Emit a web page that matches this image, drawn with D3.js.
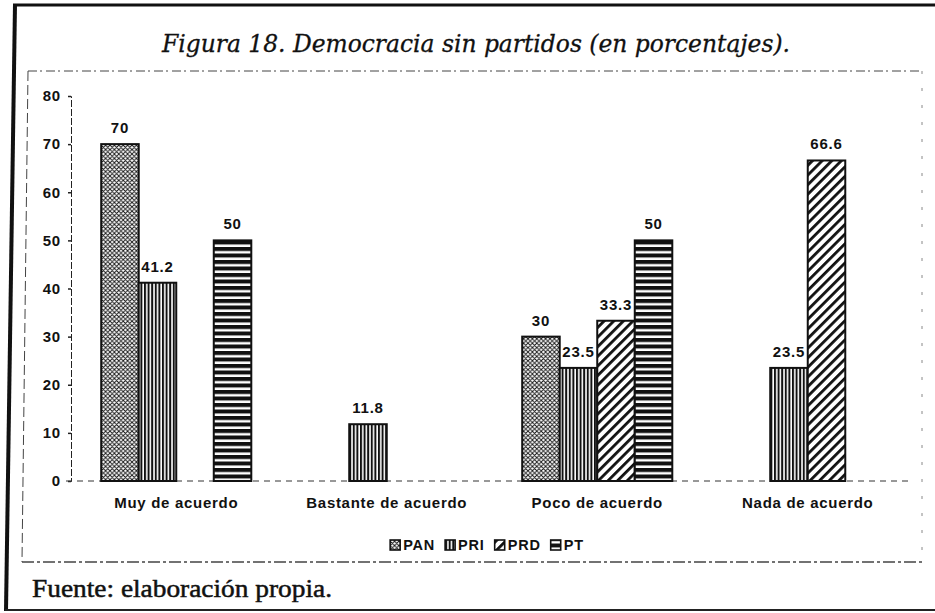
<!DOCTYPE html>
<html lang="es">
<head>
<meta charset="utf-8">
<script src="https://cdn.jsdelivr.net/npm/d3@7"></script>
<style>
  html, body { margin: 0; padding: 0; background: #fff; }
  svg { display: block; }
</style>
</head>
<body>
<script>
// Categorías de respuesta y porcentajes por partido (null = sin barra)
const categories = ["Muy de acuerdo", "Bastante de acuerdo", "Poco de acuerdo", "Nada de acuerdo"];
const seriesNames = ["PAN", "PRI", "PRD", "PT"];
const valuesPAN = [70, null, 30, null];
const valuesPRI = [41.2, 11.8, 23.5, 23.5];
const valuesPRD = [null, null, 33.3, 66.6];
const valuesPT  = [50, null, 50, null];
const yTicks = [0, 10, 20, 30, 40, 50, 60, 70, 80];

const titleText = "Figura 18. Democracia sin partidos (en porcentajes).";
const sourceText = "Fuente: elaboración propia.";

const W = 935, H = 613;
const svg = d3.select("body").append("svg")
  .attr("width", W).attr("height", H)
  .attr("viewBox", `0 0 ${W} ${H}`);

// ---- Tramas de relleno ----
const defs = svg.append("defs");

// PAN: retícula fina cruzada
const pPAN = defs.append("pattern").attr("id", "pat-PAN")
  .attr("patternUnits", "userSpaceOnUse").attr("width", 4.4).attr("height", 4.4);
pPAN.append("rect").attr("width", 4.4).attr("height", 4.4).attr("fill", "#fff");
pPAN.append("path").attr("d", "M0,0 L4.4,4.4 M4.4,0 L0,4.4 M-1,3.4 L1,5.4 M3.4,-1 L5.4,1 M-1,1 L1,-1 M3.4,5.4 L5.4,3.4")
  .attr("stroke", "#111").attr("stroke-width", 0.9);

// PRI: rayas verticales densas
const pPRI = defs.append("pattern").attr("id", "pat-PRI")
  .attr("patternUnits", "userSpaceOnUse").attr("width", 3.6).attr("height", 4);
pPRI.append("rect").attr("width", 3.6).attr("height", 4).attr("fill", "#fff");
pPRI.append("rect").attr("width", 2).attr("height", 4).attr("fill", "#111");

// PRD: diagonales gruesas "/"
const pPRD = defs.append("pattern").attr("id", "pat-PRD")
  .attr("patternUnits", "userSpaceOnUse").attr("width", 6.8).attr("height", 6.8)
  .attr("patternTransform", "rotate(45)");
pPRD.append("rect").attr("width", 6.8).attr("height", 6.8).attr("fill", "#fff");
pPRD.append("rect").attr("width", 2.8).attr("height", 6.8).attr("fill", "#111");

// PT: rayas horizontales
const pPT = defs.append("pattern").attr("id", "pat-PT")
  .attr("patternUnits", "userSpaceOnUse").attr("width", 4).attr("height", 6.5);
pPT.append("rect").attr("width", 4).attr("height", 6.5).attr("fill", "#fff");
pPT.append("rect").attr("y", 0).attr("width", 4).attr("height", 4).attr("fill", "#111");

const fills = { PAN: "url(#pat-PAN)", PRI: "url(#pat-PRI)", PRD: "url(#pat-PRD)", PT: "url(#pat-PT)" };

// ---- Marco exterior ----
const frame = svg.append("g").attr("fill", "none");
frame.append("line").attr("x1", 13).attr("y1", 5).attr("x2", W).attr("y2", 5)
  .attr("stroke", "#111").attr("stroke-width", 3);
frame.append("line").attr("x1", 15).attr("y1", 4).attr("x2", 6).attr("y2", 611)
  .attr("stroke", "#111").attr("stroke-width", 4);
frame.append("line").attr("x1", 5).attr("y1", 610).attr("x2", W).attr("y2", 610)
  .attr("stroke", "#222").attr("stroke-width", 2);

// Recuadro punteado del gráfico
const box = svg.append("g").attr("fill", "none").attr("stroke", "#444").attr("stroke-width", 1);
box.append("line").attr("x1", 28).attr("y1", 71).attr("x2", 922).attr("y2", 71)
  .attr("stroke-dasharray", "9,3,2,4");
box.append("line").attr("x1", 28).attr("y1", 71).attr("x2", 22).attr("y2", 562)
  .attr("stroke-dasharray", "10,4");
box.append("line").attr("x1", 22).attr("y1", 562).attr("x2", 922).attr("y2", 562)
  .attr("stroke-dasharray", "12,3,3,3").attr("stroke-width", 1.3);
box.append("line").attr("x1", 922).attr("y1", 71).attr("x2", 922).attr("y2", 562)
  .attr("stroke", "#888").attr("stroke-dasharray", "3,14");

// ---- Título y fuente ----
svg.append("text")
  .attr("x", 476).attr("y", 52)
  .attr("text-anchor", "middle")
  .attr("font-family", "'DejaVu Serif', 'Liberation Serif', serif")
  .attr("font-style", "italic")
  .attr("font-size", 25)
  .attr("textLength", 628).attr("lengthAdjust", "spacingAndGlyphs")
  .attr("fill", "#111").attr("stroke", "#111").attr("stroke-width", 0.3)
  .text(titleText);

svg.append("text")
  .attr("x", 32).attr("y", 597)
  .attr("font-family", "'Liberation Serif', 'Times New Roman', serif")
  .attr("font-size", 25)
  .attr("textLength", 300).attr("lengthAdjust", "spacingAndGlyphs")
  .attr("fill", "#111").attr("stroke", "#111").attr("stroke-width", 0.5)
  .text(sourceText);

// ---- Escalas ----
const x0 = d3.scaleBand().domain(categories).range([71, 913])
  .paddingInner(0.287).paddingOuter(0.1435);
const x1 = d3.scaleBand().domain(seriesNames).range([0, x0.bandwidth()]);
const y = d3.scaleLinear().domain([0, 80]).range([481, 96]);

const seriesValues = { PAN: valuesPAN, PRI: valuesPRI, PRD: valuesPRD, PT: valuesPT };
const sans = "'Liberation Sans', Arial, Helvetica, sans-serif";

// ---- Eje Y ----
const yAxis = svg.append("g").attr("transform", "translate(71,0)")
  .call(d3.axisLeft(y).tickValues(yTicks).tickSize(3).tickPadding(7).tickFormat(d3.format("d")));
yAxis.select(".domain").attr("stroke", "#222").attr("stroke-dasharray", "7,2");
yAxis.selectAll(".tick line").attr("stroke", "#222").attr("stroke-width", 1.5);
yAxis.selectAll(".tick text")
  .attr("font-family", sans).attr("font-weight", "bold").attr("font-size", 15)
  .attr("letter-spacing", 0.8).attr("fill", "#111");

// Línea base
svg.append("line")
  .attr("x1", 66).attr("x2", 912).attr("y1", y(0)).attr("y2", y(0))
  .attr("stroke", "#333").attr("stroke-width", 1).attr("stroke-dasharray", "6,5");

// ---- Barras ----
const rows = [];
categories.forEach((c, i) => {
  seriesNames.forEach(s => {
    const v = seriesValues[s][i];
    if (v != null) rows.push({ cat: c, series: s, value: v });
  });
});

const bars = svg.append("g");
bars.selectAll("rect").data(rows).join("rect")
  .attr("x", d => x0(d.cat) + x1(d.series))
  .attr("y", d => y(d.value))
  .attr("width", x1.bandwidth())
  .attr("height", d => y(0) - y(d.value))
  .attr("fill", d => fills[d.series])
  .attr("stroke", "#111").attr("stroke-width", 2);

// Etiquetas de valor
svg.append("g").selectAll("text").data(rows).join("text")
  .attr("x", d => x0(d.cat) + x1(d.series) + x1.bandwidth() / 2)
  .attr("y", d => y(d.value) - 11)
  .attr("text-anchor", "middle")
  .attr("font-family", sans).attr("font-weight", "bold").attr("font-size", 15)
  .attr("letter-spacing", 0.8)
  .attr("fill", "#111")
  .text(d => String(d.value));

// Etiquetas de categoría
svg.append("g").selectAll("text").data(categories).join("text")
  .attr("x", d => x0(d) + x0.bandwidth() / 2)
  .attr("y", 508)
  .attr("text-anchor", "middle")
  .attr("font-family", sans).attr("font-weight", "bold").attr("font-size", 15)
  .attr("letter-spacing", 0.7)
  .attr("fill", "#111")
  .text(d => d);

// ---- Leyenda ----
const legend = svg.append("g");
const items = legend.selectAll("g").data(seriesNames).join("g");
items.append("rect")
  .attr("width", 10).attr("height", 10).attr("y", -10)
  .attr("fill", d => fills[d]).attr("stroke", "#111").attr("stroke-width", 1.6);
items.append("text")
  .attr("x", 13).attr("y", 0)
  .attr("font-family", sans).attr("font-weight", "bold").attr("font-size", 14.5)
  .attr("letter-spacing", 0.8)
  .attr("fill", "#111")
  .text(d => d);
let lx = 0;
const offsets = [];
items.each(function () {
  offsets.push(lx);
  const tw = d3.select(this).select("text").node().getComputedTextLength();
  lx += 13 + tw + 10;
});
const legendW = lx - 10;
const legendX = 487 - legendW / 2;
items.attr("transform", (d, i) => `translate(${legendX + offsets[i]},550)`);
</script>
</body>
</html>
